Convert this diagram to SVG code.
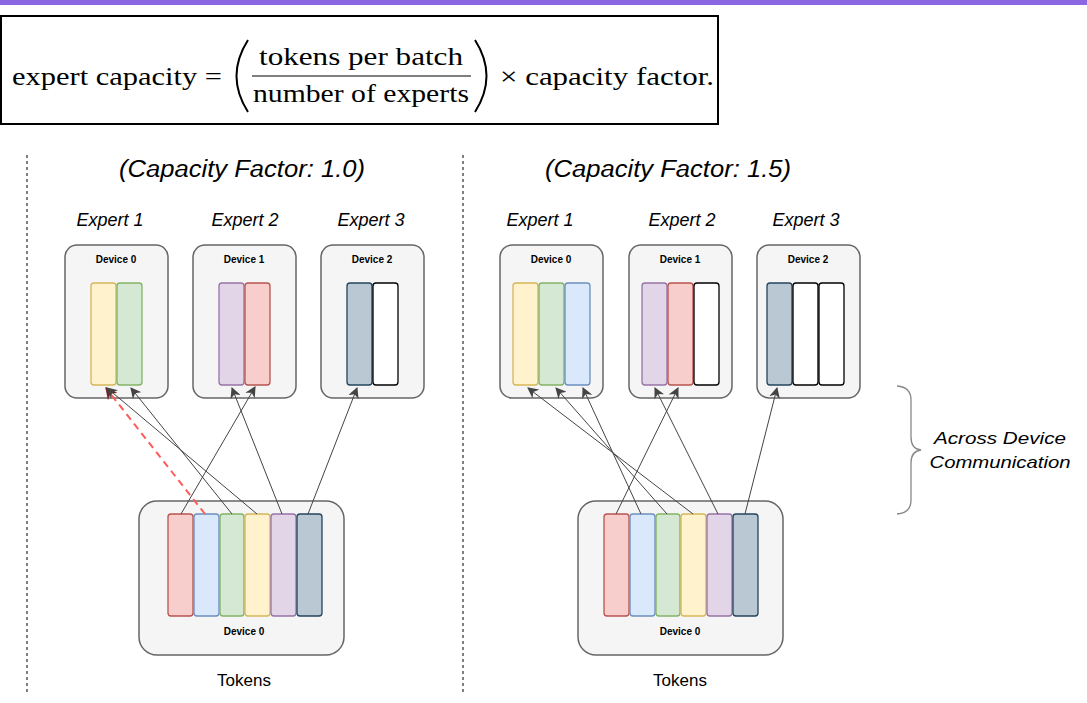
<svg xmlns="http://www.w3.org/2000/svg" width="1087" height="703" viewBox="0 0 1087 703">
<style>
.dev{fill:#f5f5f5;stroke:#666;stroke-width:1.5}
.bar{stroke-width:1.3}
.r{fill:#f8cecc;stroke:#b85450}.b{fill:#dae8fc;stroke:#6c8ebf}.g{fill:#d5e8d4;stroke:#82b366}
.y{fill:#fff2cc;stroke:#d6b656}.p{fill:#e1d5e7;stroke:#9673a6}.s{fill:#bac8d3;stroke:#23445d}.w{fill:#fff;stroke:#000}
.lbl{font-family:"Liberation Sans",Arial,sans-serif;font-weight:bold;font-size:10px;text-anchor:middle}
.it{font-family:"Liberation Sans",Arial,sans-serif;font-style:italic;text-anchor:middle}
.tk{font-family:"Liberation Sans",Arial,sans-serif;font-size:17px;text-anchor:middle}
.math{font-family:"Liberation Serif","Times New Roman",serif;font-size:26px}
.c{stroke:#444;stroke-width:1;fill:none;marker-end:url(#ah)}
</style>
<defs>
<marker id="ah" viewBox="0 0 10 10" refX="9" refY="5" markerWidth="11" markerHeight="11" orient="auto" markerUnits="userSpaceOnUse"><path d="M0,0 L10,5 L0,10 L3,5 z" fill="#444"/></marker>
<marker id="ahr" viewBox="0 0 10 10" refX="9" refY="5" markerWidth="12" markerHeight="12" orient="auto" markerUnits="userSpaceOnUse"><path d="M0,0 L10,5 L0,10 L3,5 z" fill="#722"/></marker>
</defs>
<rect x="0" y="0" width="1087" height="5" fill="#8b67e3"/>
<g id="formula">
<rect x="1" y="16" width="717" height="108" fill="#fff" stroke="#000" stroke-width="2"/>
<text class="math" x="12" y="85" textLength="210" lengthAdjust="spacingAndGlyphs">expert capacity =</text>
<text class="math" x="361" y="65" text-anchor="middle" textLength="204" lengthAdjust="spacingAndGlyphs">tokens per batch</text>
<line x1="252" y1="76" x2="471" y2="76" stroke="#000" stroke-width="1.2"/>
<text class="math" x="361" y="102" text-anchor="middle" textLength="216" lengthAdjust="spacingAndGlyphs">number of experts</text>
<path d="M248,40 Q225,76 248,112" fill="none" stroke="#000" stroke-width="2"/>
<path d="M475,40 Q498,76 475,112" fill="none" stroke="#000" stroke-width="2"/>
<text class="math" x="500" y="85" textLength="214" lengthAdjust="spacingAndGlyphs">× capacity factor.</text>
</g>
<line x1="27" y1="155" x2="27" y2="692" stroke="#000" stroke-dasharray="3,3"/>
<line x1="463" y1="155" x2="463" y2="692" stroke="#000" stroke-dasharray="3,3"/>
<text class="it" x="242" y="177" font-size="23" textLength="246" lengthAdjust="spacingAndGlyphs">(Capacity Factor: 1.0)</text>
<text class="it" x="668" y="177" font-size="23" textLength="246" lengthAdjust="spacingAndGlyphs">(Capacity Factor: 1.5)</text>
<g class="it" font-size="18">
<text x="110" y="226">Expert 1</text><text x="245" y="226">Expert 2</text><text x="371" y="226">Expert 3</text>
<text x="540" y="226">Expert 1</text><text x="682" y="226">Expert 2</text><text x="806" y="226">Expert 3</text>
</g>
<g id="L-dev0"><rect class="dev" x="65" y="245" width="103" height="153" rx="12"/><text class="lbl" x="116" y="263">Device 0</text>
<rect class="bar y" x="91" y="283" width="25" height="102" rx="3"/><rect class="bar g" x="117" y="283" width="25" height="102" rx="3"/></g>
<g id="L-dev1"><rect class="dev" x="193" y="245" width="103" height="153" rx="12"/><text class="lbl" x="244" y="263">Device 1</text>
<rect class="bar p" x="219" y="283" width="25" height="102" rx="3"/><rect class="bar r" x="245" y="283" width="25" height="102" rx="3"/></g>
<g id="L-dev2"><rect class="dev" x="321" y="245" width="103" height="153" rx="12"/><text class="lbl" x="372" y="263">Device 2</text>
<rect class="bar s" x="347" y="283" width="25" height="102" rx="3"/><rect class="bar w" x="373" y="283" width="25" height="102" rx="3"/></g>
<g id="L-tokens"><rect class="dev" x="139" y="501" width="205" height="154" rx="18"/><text class="lbl" x="244" y="635">Device 0</text>
<rect class="bar r" x="168" y="514" width="25" height="102" rx="3"/><rect class="bar b" x="194" y="514" width="25" height="102" rx="3"/><rect class="bar g" x="220" y="514" width="24" height="102" rx="3"/><rect class="bar y" x="245" y="514" width="25" height="102" rx="3"/><rect class="bar p" x="271" y="514" width="25" height="102" rx="3"/><rect class="bar s" x="297" y="514" width="25" height="102" rx="3"/>
<text class="tk" x="244" y="686">Tokens</text></g>
<g id="R-dev0"><rect class="dev" x="500" y="245" width="103" height="153" rx="12"/><text class="lbl" x="551" y="263">Device 0</text>
<rect class="bar y" x="513" y="283" width="25" height="102" rx="3"/><rect class="bar g" x="539" y="283" width="25" height="102" rx="3"/><rect class="bar b" x="565" y="283" width="25" height="102" rx="3"/></g>
<g id="R-dev1"><rect class="dev" x="629" y="245" width="103" height="153" rx="12"/><text class="lbl" x="680" y="263">Device 1</text>
<rect class="bar p" x="642" y="283" width="25" height="102" rx="3"/><rect class="bar r" x="668" y="283" width="25" height="102" rx="3"/><rect class="bar w" x="694" y="283" width="25" height="102" rx="3"/></g>
<g id="R-dev2"><rect class="dev" x="757" y="245" width="103" height="153" rx="12"/><text class="lbl" x="808" y="263">Device 2</text>
<rect class="bar s" x="767" y="283" width="25" height="102" rx="3"/><rect class="bar w" x="793" y="283" width="25" height="102" rx="3"/><rect class="bar w" x="819" y="283" width="25" height="102" rx="3"/></g>
<g id="R-tokens"><rect class="dev" x="578" y="501" width="205" height="154" rx="18"/><text class="lbl" x="680" y="635">Device 0</text>
<rect class="bar r" x="604" y="514" width="25" height="102" rx="3"/><rect class="bar b" x="630" y="514" width="25" height="102" rx="3"/><rect class="bar g" x="656" y="514" width="24" height="102" rx="3"/><rect class="bar y" x="681" y="514" width="25" height="102" rx="3"/><rect class="bar p" x="707" y="514" width="25" height="102" rx="3"/><rect class="bar s" x="733" y="514" width="25" height="102" rx="3"/>
<text class="tk" x="680" y="686">Tokens</text></g>
<g id="connectors">
<path class="c" d="M181,514 L255,387"/>
<path d="M205,514 L106,388" fill="none" stroke="#ff5a5a" stroke-width="2" stroke-dasharray="7,5" marker-end="url(#ahr)"/>
<path class="c" d="M232,514 L131,388"/>
<path class="c" d="M257,514 L107,388"/>
<path class="c" d="M282,514 L232,388"/>
<path class="c" d="M308,514 L357,388"/>
<path class="c" d="M616,514 L678,388"/>
<path class="c" d="M641,514 L583,388"/>
<path class="c" d="M667,514 L556,388"/>
<path class="c" d="M693,514 L528,388"/>
<path class="c" d="M718,514 L655,388"/>
<path class="c" d="M745,514 L777,388"/>
</g>
<path d="M897,386 Q911,387 911,400 L911,437 Q911,449 921,450 Q911,451 911,463 L911,500 Q911,513 897,514" fill="none" stroke="#888" stroke-width="1.3"/>
<text class="it" x="1000" y="444" font-size="17" textLength="132" lengthAdjust="spacingAndGlyphs">Across Device</text>
<text class="it" x="1000" y="468" font-size="17" textLength="141" lengthAdjust="spacingAndGlyphs">Communication</text>
</svg>
